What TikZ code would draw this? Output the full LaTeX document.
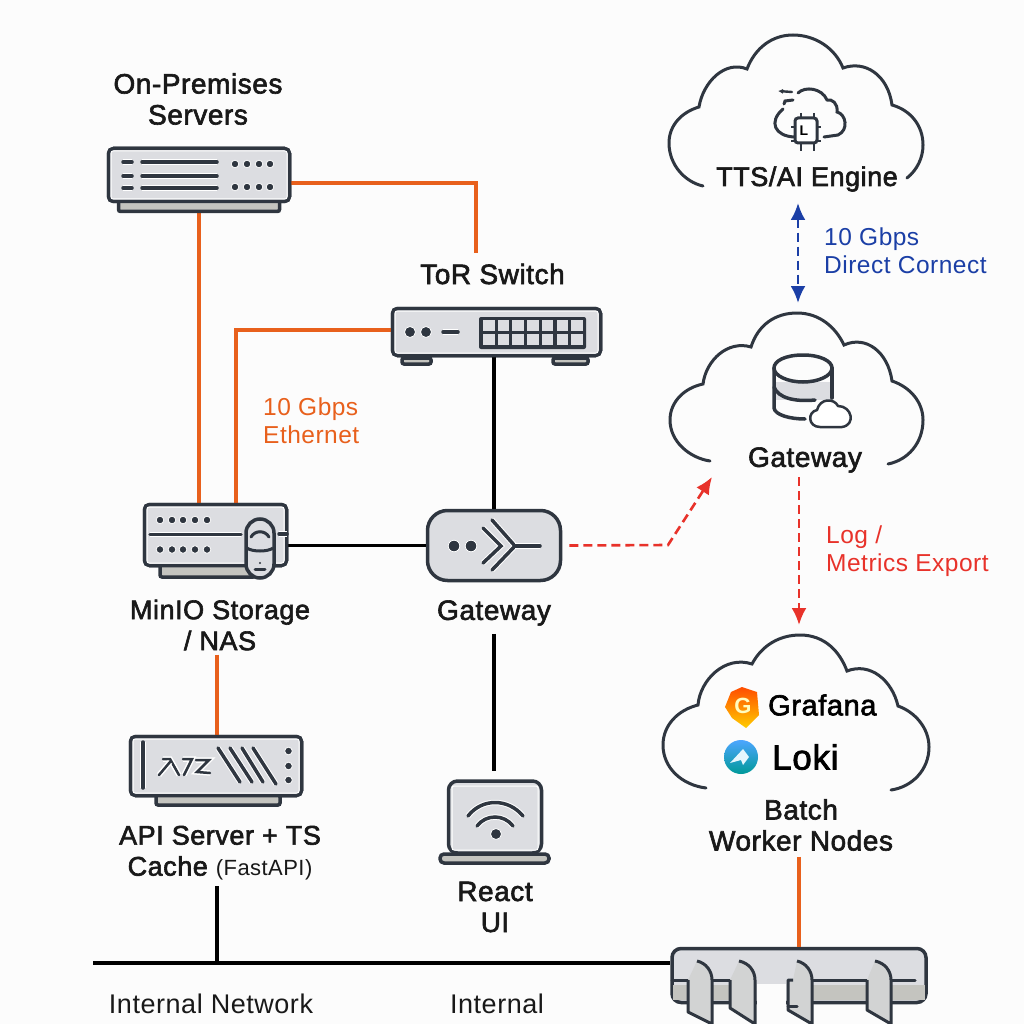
\documentclass[tikz,border=0pt]{standalone}
\usepackage{fontspec}
\setmainfont{Liberation Sans}
\newfontfamily\labelfont[FakeBold=2.2,LetterSpace=2]{Liberation Sans}
\newfontfamily\plainfont[LetterSpace=2]{Liberation Sans}
\usetikzlibrary{positioning,arrows.meta}
\definecolor{devdark}{HTML}{2F3640}
\definecolor{devfill}{HTML}{DCDDE1}
\definecolor{devfoot}{HTML}{C4C4BF}
\definecolor{ethorange}{HTML}{E8601C}
\definecolor{exportred}{HTML}{E8322A}
\definecolor{connectblue}{HTML}{1B3FA6}
\tikzset{
  devbody/.style={draw=devdark,line width=3.5pt,fill=devfill,rounded corners=5pt,inner sep=0pt},
  footbody/.style={draw=devdark,line width=3.5pt,fill=devfoot,rounded corners=2pt},
  inset/.style={draw=white,line width=1pt,rounded corners=2pt},
  stroke/.style={draw=devdark,line width=3.5pt,line cap=round,preaction={draw=white,line width=5.5pt}},
  led/.style={fill=devdark,draw=white,line width=0.8pt},
  ethline/.style={draw=ethorange,line width=3.5pt},
  wireline/.style={draw=black,line width=3.2pt},
  exportline/.style={draw=exportred,line width=2.6pt,dash pattern=on 9pt off 5pt,-{Latex[length=17pt,width=15pt]}},
  cloudline/.style={draw=devdark,line width=3pt,line cap=round},
  device/.style={font=\labelfont\fontsize{28}{31}\selectfont,align=center,inner sep=0pt,text=black!90},
  smalldevice/.style={device,font=\labelfont\fontsize{27}{31}\selectfont},
  linknote/.style={font=\plainfont\fontsize{24.5}{28}\selectfont,align=left,inner sep=0pt,anchor=west},
}
\begin{document}
\begin{tikzpicture}[x=1pt,y=-1pt]
\useasboundingbox[fill=white!99!black] (0,0) rectangle (1024,1024);
% device bodies
\node[devbody,minimum width=181pt,minimum height=53pt] (onprem) at (199,175) {};
\node[devbody,minimum width=208pt,minimum height=47pt] (tor) at (496.5,332) {};
\node[devbody,minimum width=142pt,minimum height=61pt] (minio) at (215.5,535) {};
\node[devbody,rounded corners=20pt,minimum width=133pt,minimum height=70pt] (gatewaydev) at (494,545.5) {};
\node[devbody,minimum width=171pt,minimum height=59pt] (apisrv) at (216,766) {};
\node[devbody,rounded corners=9pt,minimum width=93pt,minimum height=72pt] (laptop) at (495,817) {};
\node[devbody,rounded corners=9pt,minimum width=254pt,minimum height=54pt] (rack) at (799,975.5) {};
% labels
\node[device] (premlabel) at (198,99) {On-Premises\\Servers};
\node[device] (torlabel) at (492.5,274) {ToR Switch};
\node[smalldevice] (ttslabel) at (807,179) {TTS/AI Engine};
\node[device] (gwcloudlabel) at (805,460) {Gateway};
\node[device] (gwlabel) at (494,613) {Gateway};
\node[smalldevice] (minlabel) at (220,625) {MinIO Storage\\/ NAS};
\node[smalldevice] (apilabel) at (220,853) {API Server + TS\\Cache {\plainfont\fontsize{22}{31}\selectfont(FastAPI)}};
\node[device] (reactlabel) at (495,907) {React\\UI};
\node[device] (batchlabel) at (801,825) {Batch\\Worker Nodes};
\node[device,font=\plainfont\fontsize{27}{31}\selectfont] (netlabel) at (211,1004) {Internal Network};
\node[device,font=\plainfont\fontsize{27}{31}\selectfont] (intlabel) at (497,1004) {Internal};
\node[linknote,text=ethorange] (ethnote) at (263,421) {10 Gbps\\Ethernet};
\node[linknote,text=connectblue] (directnote) at (824,251) {10 Gbps\\Direct Cornect};
\node[linknote,text=exportred] (lognote) at (826,551) {Log /\\Metrics Export};
\coordinate (netleft) at (93,963);
\coordinate (dctop) at (798,203);
\coordinate (dcbot) at (798,303);
\coordinate (exportbend) at (668,545);
\coordinate (exportend) at (712,477);
\coordinate (logtop) at (799,477);
\coordinate (logend) at (799,625);

% connectors
\draw[ethline] ([yshift=-8pt]onprem.east) -| ([xshift=-16.5pt,yshift=11pt]torlabel.north);
\draw[ethline] (onprem.south) -- (onprem.south |- minio.north);
\draw[ethline] ([yshift=2pt]tor.west) -| ([xshift=20.5pt]minio.north);
\draw[ethline] ([xshift=1pt,yshift=-4pt]apisrv.north |- minlabel.south) -- ([xshift=1pt]apisrv.north);
\draw[ethline] ([yshift=-6pt]rack.north |- batchlabel.south) -- (rack.north);
\draw[wireline] (tor.south -| gatewaydev.north) -- (gatewaydev.north);
\draw[wireline] (gatewaydev.west) -- (gatewaydev.west -| minio.east);
\draw[wireline] ([yshift=-8pt]gwlabel.south) -- ([yshift=8pt]gwlabel.south |- laptop.north);
\draw[wireline] ([xshift=1pt,yshift=-6pt]apisrv.north |- apilabel.south) -- ([xshift=1pt]apisrv.north |- netleft);
\draw[wireline] (netleft) -- (netleft -| rack.west);
\draw[exportline] ([xshift=7pt]gatewaydev.east) -- (exportbend) -- (exportend);
\draw[exportline] (logtop) -- (logend);
\draw[draw=connectblue,line width=2.6pt,dash pattern=on 9pt off 5pt,{Latex[length=17pt,width=15pt]}-{Latex[length=17pt,width=15pt]}] (dctop) -- (dcbot);

% on-premises server
\draw[footbody] (118.5,200) rectangle (279.5,211.5);
\node[devbody,minimum width=181pt,minimum height=53pt] at (onprem.center) {};
\draw[inset] (111,151) rectangle (287,199);
\foreach \y in {162,176,188} {
  \draw[stroke] (123,\y) -- (132,\y);
  \draw[stroke] (142,\y) -- (217,\y);
}
\foreach \x in {235,247,259,270} {
  \fill[led] (\x,164) circle (3.8);
  \fill[led] (\x,187) circle (3.8);
}

% tor switch
\draw[footbody] (402,358) rectangle (431,364);
\draw[footbody] (553,358) rectangle (588,364);
\node[devbody,minimum width=208pt,minimum height=47pt] at (tor.center) {};
\draw[inset] (395,311) rectangle (598,353);
\fill[led] (410,332) circle (5.5);
\fill[led] (426,332) circle (5.5);
\draw[stroke] (443,332) -- (458,332);
\fill[devdark,rounded corners=2pt] (479,317) rectangle (586,349);
\foreach \x in {483,497.7,512.4,527.1,541.8,556.5,571.2} {
  \fill[devfill] (\x,320) rectangle ++(11.5,10.5);
  \fill[devfill] (\x,334) rectangle ++(11.5,11);
}

% minio storage
\draw[footbody] (160,565) rectangle (255,577);
\node[devbody,minimum width=142pt,minimum height=61pt] at (minio.center) {};
\draw[inset] (147,507) rectangle (284,563);
\foreach \x in {160,172,183,195,207} {
  \fill[led] (\x,520) circle (3.8);
  \fill[led] (\x,549.5) circle (3.8);
}
\draw[stroke] (150,534.5) -- (241,534.5);
\draw[stroke] (279,534) -- (287,534);
\draw[devbody,rounded corners=14pt] (246,519) rectangle (274,578);
\draw[draw=devdark,line width=3pt] (247,548) .. controls (252,552) and (268,552) .. (273,548);
\draw[draw=devdark,line width=3pt,line cap=round] (251,537) .. controls (255,530) and (265,530) .. (269,537);
\fill[devdark] (260,563) circle (1.2);
\draw[draw=devdark,line width=3pt,line cap=round] (255,569) -- (265,569);

% gateway
\fill[led] (454,546) circle (5.8);
\fill[led] (471,546) circle (5.8);
\draw[stroke] (483,528) -- (501,546) -- (483,563);
\draw[stroke] (492,520) -- (515,546) -- (492,570);
\draw[stroke] (515,546) -- (540,546);

% api server
\draw[footbody] (156,795) rectangle (280,805);
\node[devbody,minimum width=171pt,minimum height=59pt] at (apisrv.center) {};
\draw[inset] (133,739) rectangle (299,793);
\draw[stroke] (143,742) -- (143,788);
\draw[stroke,line width=2.5pt] (163,759) -- (170,759) -- (179,775);
\draw[stroke,line width=2.5pt] (170,762) -- (159,775);
\draw[stroke,line width=2.5pt] (183,759) -- (192,759) -- (184,775);
\draw[stroke,line width=2.5pt] (196,760) -- (209,760) -- (197,772) -- (210,773);
\draw[stroke] (218,748) -- (240,782);
\draw[stroke] (230,748) -- (252,782);
\draw[stroke] (242,748) -- (263,782);
\draw[stroke] (253,748) -- (276,784);
\foreach \y in {751,766,780} {
  \fill[led] (288.5,\y) circle (3.8);
}

% laptop
\draw[inset] (452,786) rectangle (538,850);
\draw[stroke] (468,816) .. controls (482,798) and (508,798) .. (523,816);
\draw[stroke] (477,826) .. controls (486,814) and (504,814) .. (513,826);
\fill[led] (496,834) circle (5.5);
\draw[footbody,rounded corners=4pt] (440,854) rectangle (549,863);

% rack
\fill[white!99!black] (757,984) rectangle (786,1024);
\fill[devfoot] (673,985) rectangle (688,1000);
\fill[devfoot] (712,985) rectangle (730,1000);
\fill[devfoot] (812,985) rectangle (867,1000);
\fill[devfoot] (891,985) rectangle (925,1000);
\draw[draw=devdark,line width=3pt,line cap=round] (672,980) -- (688,980);
\draw[draw=devdark,line width=3pt,line cap=round] (712,980) -- (730,980);
\draw[draw=devdark,line width=3pt,line cap=round] (812,980) -- (867,980);
\draw[draw=devdark,line width=3pt,line cap=round] (891,980) -- (915,980);
\draw[draw=devdark,fill=devfoot!40!devfill,line width=3pt,line join=round] (697,961) .. controls (706,963) and (712,971) .. (712,980) -- (712,1024) -- (688,1012) -- (688,980);
\draw[draw=devdark,fill=devfoot!40!devfill,line width=3pt,line join=round] (739,961) .. controls (749,963) and (755,971) .. (755,980) -- (755,1024) -- (730,1008) -- (730,980);
\draw[draw=devdark,fill=devfoot!40!devfill,line width=3pt,line join=round] (797,961) .. controls (806,963) and (812,971) .. (812,980) -- (812,1024) -- (788,1010) -- (788,980) -- (793,980);
\draw[draw=devdark,fill=devfoot!40!devfill,line width=3pt,line join=round] (875,961) .. controls (885,963) and (891,971) .. (891,980) -- (891,1024) -- (867,1010) -- (867,980);
\draw[draw=devdark,line width=3pt,line cap=round] (788,1006) -- (797,1006);

% clouds
\draw[cloudline] (703,186) .. controls (685,182) and (669,165) .. (669,143) .. controls (669,125) and (682,112) .. (699,107) .. controls (703,82) and (725,60) .. (747,69) .. controls (755,48) and (772,35) .. (793,35) .. controls (815,35) and (835,48) .. (843,68) .. controls (865,60) and (888,75) .. (892,105) .. controls (910,110) and (923,125) .. (923,145) .. controls (923,158) and (917,170) .. (907,178);
\draw[cloudline] (710,461) .. controls (690,458) and (670,442) .. (670,420) .. controls (670,402) and (684,388) .. (703,384) .. controls (706,360) and (728,340) .. (751,347) .. controls (758,325) and (775,313) .. (797,313) .. controls (820,313) and (836,328) .. (844,345) .. controls (866,335) and (888,352) .. (892,381) .. controls (910,387) and (923,402) .. (923,420) .. controls (923,443) and (908,460) .. (888,464);
\draw[cloudline] (706,788) .. controls (682,785) and (663,768) .. (663,745) .. controls (663,725) and (678,710) .. (698,705) .. controls (700,680) and (725,655) .. (752,664) .. controls (762,645) and (780,635) .. (800,635) .. controls (825,635) and (840,652) .. (847,671) .. controls (870,662) and (892,680) .. (898,706) .. controls (915,712) and (929,728) .. (929,747) .. controls (929,770) and (912,787) .. (891,790);

% cloud icons
\draw[cloudline] (798,93) .. controls (805,86) and (822,88) .. (827,100) .. controls (832,99) and (838,103) .. (837,112) .. controls (846,114) and (849,130) .. (838,135) -- (824,137);
\draw[cloudline] (794,137) .. controls (775,136) and (768,122) .. (783,109);
\draw[cloudline] (784,104) -- (785,101) -- (793,100);
\draw[cloudline,line width=2.4pt,-{Latex[length=5pt,width=5pt]}] (792,92) -- (778,91);
\draw[draw=devdark,line width=3pt,fill=white,rounded corners=3pt] (795,118) rectangle (817,143);
\foreach \x in {801,814} {
  \draw[draw=devdark,line width=2.6pt] (\x,113) -- (\x,118);
  \draw[draw=devdark,line width=2.6pt] (\x,143) -- (\x,151);
}
\foreach \y in {127,141} {
  \draw[draw=devdark,line width=2.6pt] (791,\y) -- (795,\y);
  \draw[draw=devdark,line width=2.6pt] (817,\y) -- (821,\y);
}
\node[inner sep=0pt,font=\bfseries\fontsize{14}{14}\selectfont] (chipletter) at (804,131) {L};

\fill[devfill] (774,382) rectangle (832,400);
\draw[cloudline,line width=3.5pt] (803,355) .. controls (785,355) and (774,361) .. (774,368) .. controls (774,376) and (788,382) .. (803,382) .. controls (818,382) and (832,376) .. (832,368) .. controls (832,361) and (820,355) .. (803,355);
\draw[cloudline,line width=3.5pt] (774,368) -- (774,408) .. controls (775,415) and (790,419) .. (805,419);
\draw[cloudline,line width=3.5pt] (832,368) -- (832,398);
\draw[cloudline,line width=3.5pt] (774,387) .. controls (778,398) and (795,402) .. (815,400);
\draw[draw=devdark,fill=white,line width=2.5pt,line join=round] (820,427) .. controls (808,427) and (807,412) .. (817,410) .. controls (820,398) and (834,398) .. (838,406) .. controls (852,406) and (856,425) .. (842,427) -- cycle;

% grafana and loki
\shade[top color=orange!60!red,bottom color=yellow!60!orange] (731,692) -- (742,687) -- (757,692) -- (759,715) -- (746,728) -- (732,718) -- (725,707) -- cycle;
\node[inner sep=0pt,text=yellow!25,font=\bfseries\fontsize{22}{22}\selectfont] (grafanaglyph) at (743,706) {G};
\node[inner sep=0pt,anchor=west,font=\labelfont\fontsize{29}{29}\selectfont] (grafanatext) at (768,705) {Grafana};
\shade[top color=cyan!50!blue!70,bottom color=cyan!60!black] (741,757) circle (17);
\fill[white!90!cyan] (730,763) -- (743,749) -- (749,757) -- (743,765) -- (741,760) -- cycle;
\node[inner sep=0pt,anchor=west,font=\labelfont\fontsize{35}{35}\selectfont] (lokitext) at (772,757) {Loki};
\end{tikzpicture}
\end{document}
